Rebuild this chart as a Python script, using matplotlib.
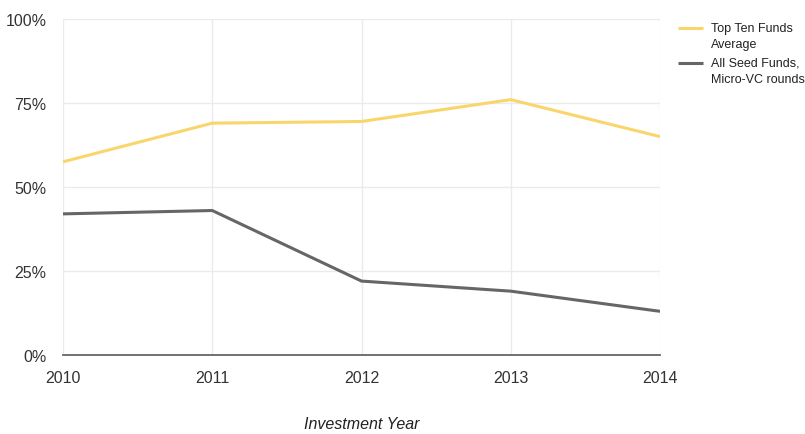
import matplotlib
matplotlib.use("Agg")
import matplotlib.pyplot as plt
from matplotlib.ticker import FuncFormatter

plt.rcParams['font.family'] = ['Liberation Sans', 'DejaVu Sans']

years = [2010, 2011, 2012, 2013, 2014]
top_ten = [57.5, 69, 69.5, 76, 65]
all_seed = [42, 43, 22, 19, 13]
series_labels = ["Top Ten Funds\nAverage", "All Seed Funds,\nMicro-VC rounds"]
yticks = [0, 25, 50, 75, 100]

fig = plt.figure(figsize=(8.05, 4.35), dpi=100)
ax = fig.add_axes([63/805, 1-356/435, (660-63)/805, (356-20)/435])

ax.plot(years, top_ten, color="#f9d66b", lw=2.2, label=series_labels[0], solid_capstyle='butt')
ax.plot(years, all_seed, color="#666666", lw=2.2, label=series_labels[1], solid_capstyle='butt')

ax.set_xlim(2010, 2014)
ax.set_ylim(0, 100)
ax.set_xticks(years)
ax.set_yticks(yticks)
ax.yaxis.set_major_formatter(FuncFormatter(lambda v, p: f"{int(v)}%"))
ax.grid(True, color="#ebebeb", lw=1)
ax.set_axisbelow(True)
for s in ['top', 'right', 'left']:
    ax.spines[s].set_visible(False)
ax.spines['bottom'].set_color("#666666")
ax.spines['bottom'].set_linewidth(1.3)
ax.tick_params(length=0, labelsize=11.5, colors="#333333")
ax.tick_params(axis='y', pad=12)
ax.tick_params(axis='x', pad=11)
ax.set_xlabel("Investment Year", fontsize=11.5, style='italic', color="#222222", labelpad=22)

leg = ax.legend(loc='upper left', bbox_to_anchor=(1.012, 1.025), frameon=False,
                fontsize=9, handlelength=1.95, handletextpad=0.65, labelspacing=0.55)
for t in leg.get_texts():
    t.set_color("#222222")
    t.set_linespacing(1.45)
for ln in leg.get_lines():
    ln.set_ydata([v + 5.8 for v in ln.get_ydata()])

fig.savefig("out.png", dpi=100)
